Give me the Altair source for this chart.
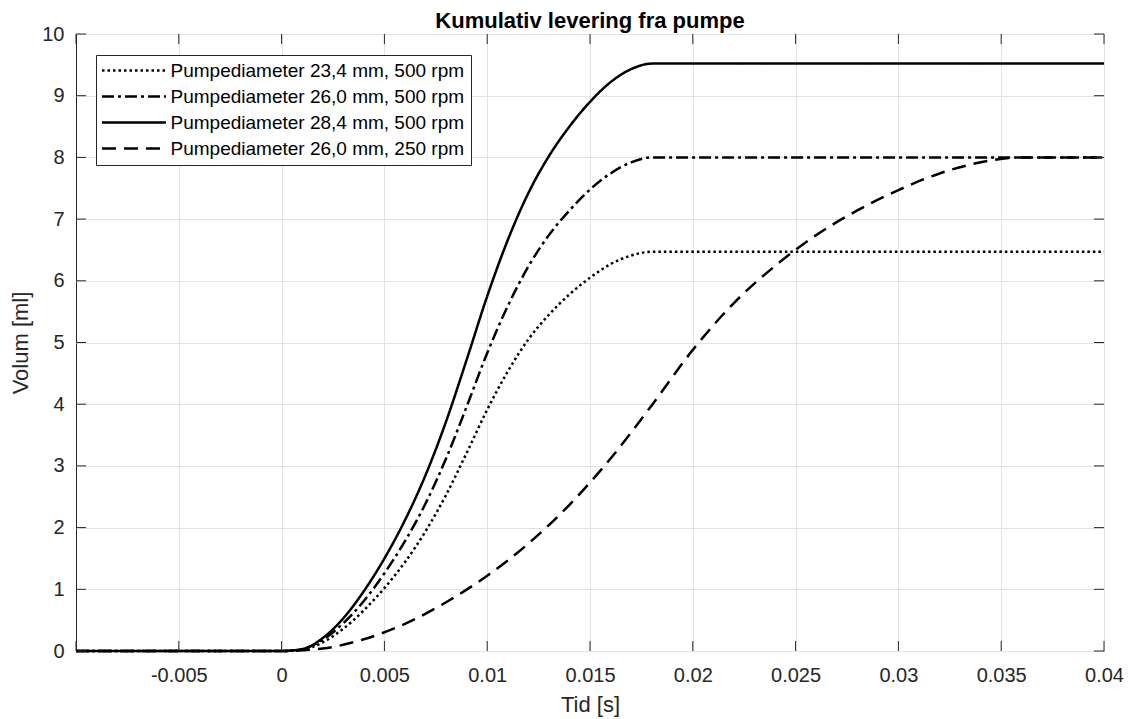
import altair as alt
import pandas as pd

FONT = "Liberation Sans"

series_names = [
    "Pumpediameter 23,4 mm, 500 rpm",
    "Pumpediameter 26,0 mm, 500 rpm",
    "Pumpediameter 28,4 mm, 500 rpm",
    "Pumpediameter 26,0 mm, 250 rpm",
]

# time axis (s) for the 500 rpm curves
t_500 = [-0.01, 0.0, 0.001, 0.002, 0.003, 0.004, 0.005, 0.006, 0.007, 0.008, 0.009,
         0.010, 0.011, 0.012, 0.013, 0.014, 0.015, 0.016, 0.017, 0.018, 0.04]
v_234_500 = [0, 0, 0.02, 0.14, 0.36, 0.66, 1.02, 1.44, 1.94, 2.53, 3.21,
             3.91, 4.53, 5.05, 5.45, 5.78, 6.05, 6.27, 6.41, 6.47, 6.47]
v_260_500 = [0, 0, 0.03, 0.18, 0.45, 0.81, 1.26, 1.78, 2.39, 3.12, 3.96,
             4.83, 5.59, 6.23, 6.74, 7.14, 7.48, 7.74, 7.92, 8.0, 8.0]
v_284_500 = [0, 0, 0.03, 0.21, 0.53, 0.97, 1.5, 2.12, 2.85, 3.72, 4.72,
             5.75, 6.66, 7.42, 8.02, 8.5, 8.9, 9.22, 9.43, 9.52, 9.52]

# time axis (s) for the 250 rpm curve
t_250 = [-0.01, 0.0, 0.002, 0.004, 0.006, 0.008, 0.010, 0.012, 0.014, 0.016, 0.018,
         0.020, 0.022, 0.024, 0.026, 0.028, 0.030, 0.032, 0.034, 0.036, 0.04]
v_260_250 = [0, 0, 0.04, 0.19, 0.44, 0.79, 1.22, 1.74, 2.37, 3.12, 3.98,
             4.88, 5.64, 6.24, 6.74, 7.14, 7.47, 7.74, 7.92, 8.0, 8.0]

x_ticks = [-0.01, -0.005, 0.0, 0.005, 0.01, 0.015, 0.02, 0.025, 0.03, 0.035, 0.04]
x_label_values = [-0.005, 0.0, 0.005, 0.01, 0.015, 0.02, 0.025, 0.03, 0.035, 0.04]
y_ticks = [0, 1, 2, 3, 4, 5, 6, 7, 8, 9, 10]

dash_styles = [[2.5, 3], [12, 4, 3, 4], [1, 0], [14, 8]]

rows = []
for name, ts, vs in [
    (series_names[0], t_500, v_234_500),
    (series_names[1], t_500, v_260_500),
    (series_names[2], t_500, v_284_500),
    (series_names[3], t_250, v_260_250),
]:
    for t, v in zip(ts, vs):
        rows.append({"series": name, "t": t, "v": v})
df = pd.DataFrame(rows)

W, H = 1028, 617
AX = "#262626"
GRID = "#e2e2e2"

xscale = alt.Scale(domain=[-0.01, 0.04], nice=False, zero=False)
yscale = alt.Scale(domain=[0, 10], nice=False, zero=False)

x_axis = alt.Axis(
    values=x_label_values, labelExpr="'' + datum.value",
    labelFlush=False, labelOverlap=False, ticks=False, domain=False,
    grid=True, gridColor=GRID, gridWidth=1,
    labelFont=FONT, labelFontSize=20, labelColor=AX, labelPadding=14,
    title="Tid [s]", titleFont=FONT, titleFontSize=22, titleFontWeight="normal",
    titleColor=AX, titlePadding=9)
y_axis = alt.Axis(
    values=y_ticks, labelFlush=False, labelOverlap=False, ticks=False, domain=False,
    grid=True, gridColor=GRID, gridWidth=1,
    labelFont=FONT, labelFontSize=20, labelColor=AX, labelPadding=12,
    title="Volum [ml]", titleFont=FONT, titleFontSize=22, titleFontWeight="normal",
    titleColor=AX, titlePadding=9)

lines = alt.Chart(df).mark_line(
    strokeWidth=2.5, color="black", interpolate="monotone", strokeCap="butt"
).encode(
    x=alt.X("t:Q", scale=xscale, axis=x_axis),
    y=alt.Y("v:Q", scale=yscale, axis=y_axis),
    strokeDash=alt.StrokeDash("series:N", sort=series_names,
        scale=alt.Scale(domain=series_names, range=dash_styles),
        legend=alt.Legend(
            title=None, orient="none", legendX=20, legendY=21,
            symbolType="M-4,0H4", symbolSize=256, symbolStrokeWidth=2.5,
            symbolStrokeColor="black", symbolOffset=22.5, labelOffset=27,
            labelFont=FONT, labelFontSize=19, labelColor="black", labelLimit=0,
            rowPadding=6, padding=6, strokeColor=AX, fillColor="white",
            cornerRadius=0)),
)

xt = pd.DataFrame({"tick": x_ticks})
yt = pd.DataFrame({"tick": y_ticks})

tick_bottom = alt.Chart(xt).mark_rule(color=AX, strokeWidth=1).encode(
    x=alt.X("tick:Q", scale=xscale, axis=x_axis), y=alt.value(H), y2=alt.value(H - 10))
tick_top = alt.Chart(xt).mark_rule(color=AX, strokeWidth=1).encode(
    x=alt.X("tick:Q", scale=xscale, axis=x_axis), y=alt.value(0), y2=alt.value(10))
tick_left = alt.Chart(yt).mark_rule(color=AX, strokeWidth=1).encode(
    y=alt.Y("tick:Q", scale=yscale, axis=y_axis), x=alt.value(0), x2=alt.value(10))
tick_right = alt.Chart(yt).mark_rule(color=AX, strokeWidth=1).encode(
    y=alt.Y("tick:Q", scale=yscale, axis=y_axis), x=alt.value(W), x2=alt.value(W - 10))

chart = alt.layer(lines, tick_bottom, tick_top, tick_left, tick_right).properties(
    width=W, height=H,
    title=alt.Title("Kumulativ levering fra pumpe", font=FONT, fontSize=22,
                    fontWeight="bold", color="black", anchor="middle",
                    frame="group", offset=-9),
    autosize=alt.AutoSizeParams(type="none"),
    padding={"left": 68, "top": 26, "right": 20, "bottom": 68},
).configure_view(stroke=AX, strokeWidth=1)

chart.save("out.html", embed_options={"renderer": "svg", "actions": False})
